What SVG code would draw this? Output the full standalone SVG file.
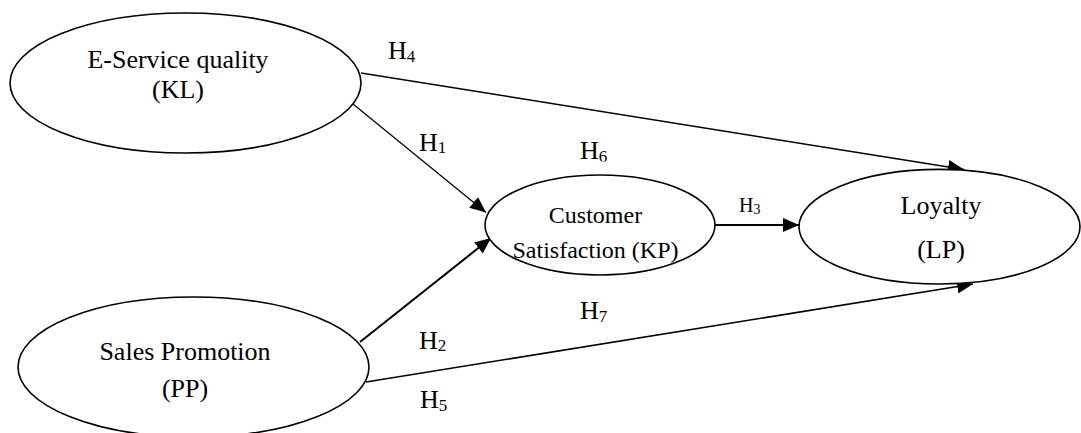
<svg xmlns="http://www.w3.org/2000/svg" width="1081" height="433" viewBox="0 0 1081 433">
  <style>
    .node ellipse { fill: #fff; stroke: #000; stroke-width: 1.6; }
    .node text { font-family: "Liberation Serif", "Times New Roman", serif; fill: #000; text-anchor: middle; }
    .big { font-size: 26px; }
    .mid { font-size: 24px; }
    .edge { stroke: #000; fill: none; }
    .lbl { font-family: "Liberation Serif", "Times New Roman", serif; font-size: 26px; fill: #000; }
    .lbl tspan.sub { font-size: 17px; }
  </style>
  <defs>
    <marker id="arrow" markerUnits="userSpaceOnUse" markerWidth="16" markerHeight="14" refX="16" refY="7" orient="auto">
      <path d="M0,0 L16,7 L0,14 Z" fill="#000"/>
    </marker>
    <clipPath id="clipH6">
      <rect x="570" y="130" width="60" height="31.5"/>
    </clipPath>
  </defs>

  <!-- connectors -->
  <g id="connectors">
    <line class="edge" x1="361" y1="73" x2="964" y2="169.5" stroke-width="1.5" marker-end="url(#arrow)"/>
    <line class="edge" x1="353" y1="104" x2="486" y2="212.5" stroke-width="1.3" marker-end="url(#arrow)"/>
    <line class="edge" x1="360" y1="342" x2="491" y2="238" stroke-width="2" marker-end="url(#arrow)"/>
    <line class="edge" x1="715" y1="225" x2="799" y2="225" stroke-width="1.8" marker-end="url(#arrow)"/>
    <line class="edge" x1="366" y1="382" x2="973" y2="284" stroke-width="1.6" marker-end="url(#arrow)"/>
  </g>

  <!-- hypothesis labels -->
  <g id="labels">
    <text class="lbl" x="388" y="59">H<tspan class="sub" dy="3">4</tspan></text>
    <text class="lbl" x="419" y="151">H<tspan class="sub" dy="2">1</tspan></text>
    <text class="lbl" x="580" y="159" clip-path="url(#clipH6)">H<tspan class="sub" dy="3">6</tspan></text>
    <text class="lbl" x="739" y="212" style="font-size:20px">H<tspan class="sub" dy="2" style="font-size:14px">3</tspan></text>
    <text class="lbl" x="419" y="349">H<tspan class="sub" dy="2">2</tspan></text>
    <text class="lbl" x="420" y="408">H<tspan class="sub" dy="3">5</tspan></text>
    <text class="lbl" x="580" y="319">H<tspan class="sub" dy="3">7</tspan></text>
  </g>

  <!-- nodes -->
  <g id="node-kl" class="node">
    <ellipse cx="185.5" cy="83" rx="175.5" ry="70"/>
    <text class="big" x="178" y="68">E-Service quality</text>
    <text class="big" x="178" y="98">(KL)</text>
  </g>

  <g id="node-pp" class="node">
    <ellipse cx="193.5" cy="367" rx="175.5" ry="70"/>
    <text class="big" x="185" y="360">Sales Promotion</text>
    <text class="big" x="185" y="397">(PP)</text>
  </g>

  <g id="node-kp" class="node">
    <ellipse cx="600" cy="225" rx="115" ry="50"/>
    <text class="mid" x="595.5" y="223">Customer</text>
    <text class="mid" x="595.5" y="258">Satisfaction (KP)</text>
  </g>

  <g id="node-lp" class="node">
    <ellipse cx="939.5" cy="226.7" rx="140.5" ry="57.3"/>
    <text class="big" x="941" y="214">Loyalty</text>
    <text class="big" x="941" y="258">(LP)</text>
  </g>
</svg>
